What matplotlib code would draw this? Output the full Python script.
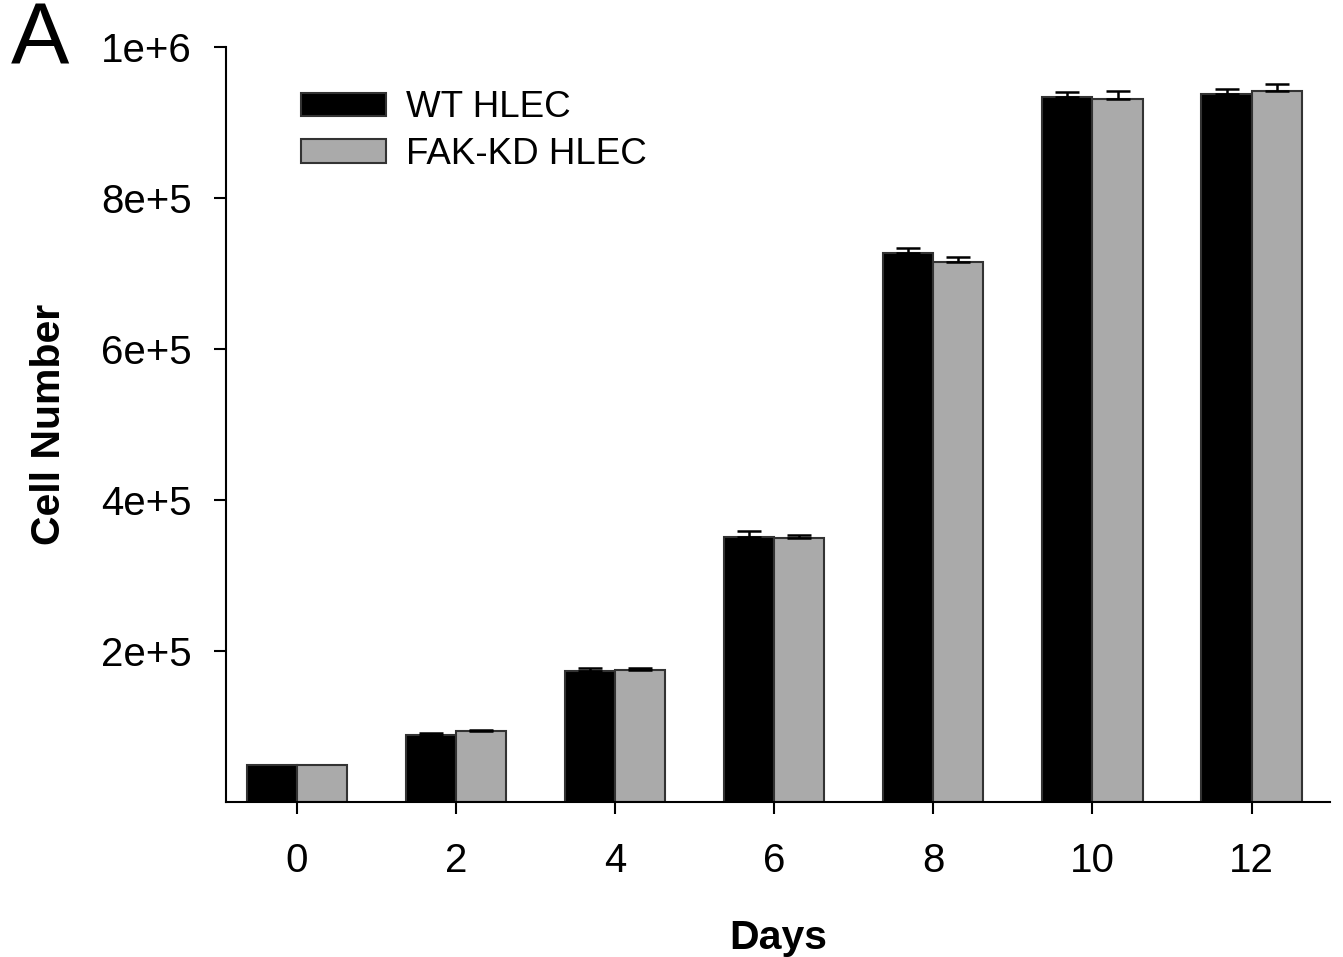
import matplotlib
matplotlib.use("Agg")
import matplotlib.pyplot as plt
import numpy as np

days = [0, 2, 4, 6, 8, 10, 12]
wt_mean = [49000, 89000, 174000, 351000, 727000, 934000, 937000]
wt_err = [0, 2000, 4000, 8000, 6000, 6600, 7400]
fak_mean = [49000, 94000, 175000, 349000, 715000, 931000, 942000]
fak_err = [0, 1500, 2000, 5000, 6600, 10000, 8600]
ytick_vals = [2e5, 4e5, 6e5, 8e5, 1e6]
ytick_labels = ["2e+5", "4e+5", "6e+5", "8e+5", "1e+6"]

plt.rcParams['font.family'] = ['Liberation Sans', 'DejaVu Sans']

fig = plt.figure(figsize=(13.43, 9.57), dpi=100)
ax = fig.add_axes([0.1683, 0.162, 0.8217, 0.789])

x = np.array(days, dtype=float)
w = 0.63
ax.bar(x - w/2, wt_mean, width=w, color='black', edgecolor='#333333', linewidth=1.5,
       label='WT HLEC', zorder=2)
ax.bar(x + w/2, fak_mean, width=w, color='#aaaaaa', edgecolor='#333333', linewidth=1.5,
       label='FAK-KD HLEC', zorder=2)
ax.errorbar(x[1:] - w/2, wt_mean[1:], yerr=[np.zeros(len(wt_err) - 1), wt_err[1:]], fmt='none',
            ecolor='black', elinewidth=1.8, capsize=8.5, capthick=1.8, zorder=3)
ax.errorbar(x[1:] + w/2, fak_mean[1:], yerr=[np.zeros(len(fak_err) - 1), fak_err[1:]], fmt='none',
            ecolor='black', elinewidth=1.8, capsize=8.5, capthick=1.8, zorder=3)

ax.set_xlim(-0.89, 12.98)
ax.set_ylim(0, 1e6)
ax.set_xticks(days)
ax.set_xticklabels([str(d) for d in days])
ax.set_yticks(ytick_vals)
ax.set_yticklabels(ytick_labels)
ax.tick_params(axis='both', labelsize=29, width=1.5, length=8.6, direction='out')
ax.tick_params(axis='x', pad=20)
ax.tick_params(axis='y', pad=16)
for s in ['top', 'right']:
    ax.spines[s].set_visible(False)
for s in ['left', 'bottom']:
    ax.spines[s].set_linewidth(1.5)

ax.set_xlabel('Days', fontsize=29.5, fontweight='bold', labelpad=28)
ax.set_ylabel('Cell Number', fontsize=29.5, fontweight='bold', labelpad=24)

leg = ax.legend(loc='upper left', bbox_to_anchor=(0.055, 0.962), frameon=False, fontsize=26.5,
                handlelength=2.3, handleheight=0.6, labelspacing=0.32, handletextpad=0.55,
                borderaxespad=0)

fig.text(0.008, 0.998, 'A', fontsize=63, va='top', ha='left')

fig.savefig('out.png', dpi=100)
